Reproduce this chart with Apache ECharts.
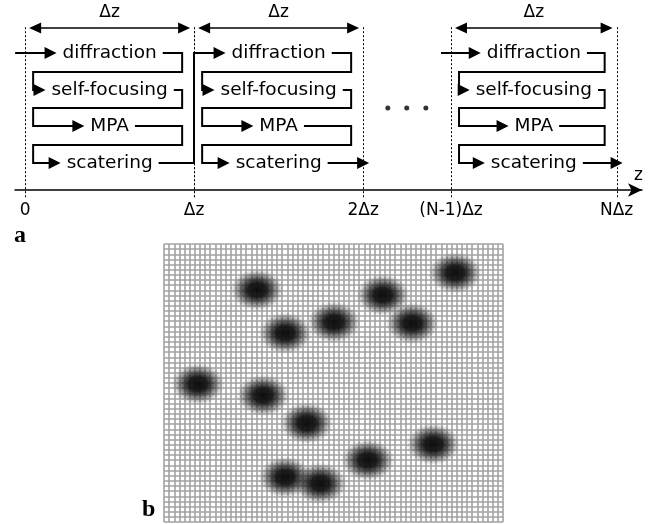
<!DOCTYPE html>
<html>
<head>
<meta charset="utf-8">
<script src="https://cdn.jsdelivr.net/npm/echarts@6/dist/echarts.min.js"></script>
<style>
  html, body { margin: 0; padding: 0; background: #fff; }
  #chart { width: 649px; height: 524px; }
</style>
</head>
<body>
<div id="chart"></div>
<script>
// ---- Panel a: split-step propagation along z (units of Δz; axis broken between 2Δz and (N-1)Δz)
const zTickPositions = [0, 1, 2, 2.52, 3.5];
const zTickLabels = ['0', 'Δz', '2Δz', '(N-1)Δz', 'NΔz'];
const stepBlocks = [[0, 1], [1, 2], [2.52, 3.5]];
const stageNames = ['diffraction', 'self-focusing', 'MPA', 'scatering'];
const spanLabel = 'Δz';
const gapDotsZ = [2.146, 2.258, 2.371];
const gapDotsRow = 1.5;

// ---- Panel b: scatterer positions on the transverse cell grid (column, row)
const scattererCols = [18.1, 23.6, 33.1, 42.6, 48.3, 56.7, 6.6, 19.3, 27.8, 52.4, 39.7, 23.6, 30.4];
const scattererRows = [8.9, 17.3, 15.2, 9.9, 15.4, 5.6, 27.2, 29.4, 34.8, 38.9, 42.0, 45.3, 46.5];
const cellCols = 66;
const cellRows = 54;

const FONT_STAGE = '18.5px "DejaVu Sans"';
const FONT_SPAN = '17px "DejaVu Sans"';
const ARROW_LEN = 12;
const ARROW_HALF = 6;

const measureCtx = document.createElement('canvas').getContext('2d');
function textWidth(s, font) {
  measureCtx.font = font;
  return measureCtx.measureText(s).width;
}

function arrowHead(tipX, tipY, dir, len, half) {
  return {
    type: 'polygon',
    shape: { points: [[tipX, tipY], [tipX - dir * len, tipY - half], [tipX - dir * len, tipY + half]] },
    style: { fill: '#000' }
  };
}

function flowLine(points) {
  return {
    type: 'polyline',
    shape: { points: points },
    style: { stroke: '#000', lineWidth: 2, fill: null, lineJoin: 'miter' }
  };
}

function renderBlock(params, api) {
  const idx = params.dataIndex;
  const z0 = api.value(0), z1 = api.value(1);
  const x0 = api.coord([z0, 0])[0];
  const x1 = api.coord([z1, 0])[0];
  const rowY = r => api.coord([z0, r])[1];
  const xc = (x0 + x1) / 2;
  const left = x0 + 8;
  const right = x1 - 12;
  const children = [];

  // block boundaries
  const yTop = rowY(-0.72), yBot = rowY(3.96);
  [x0, x1].forEach(x => {
    const px = Math.round(x) + 0.5;
    children.push({
      type: 'line',
      shape: { x1: px, y1: yTop, x2: px, y2: yBot },
      style: { stroke: '#000', lineWidth: 1, lineDash: [2, 2] }
    });
  });

  // Δz span arrow
  const ySpan = Math.round(rowY(-0.69));
  children.push({
    type: 'line',
    shape: { x1: x0 + 8, y1: ySpan, x2: x1 - 8, y2: ySpan },
    style: { stroke: '#000', lineWidth: 1.5 }
  });
  children.push(arrowHead(x0 + 4, ySpan, -1, 12, 5.5));
  children.push(arrowHead(x1 - 4, ySpan, 1, 12, 5.5));
  children.push({
    type: 'text',
    style: { text: spanLabel, x: xc, y: rowY(-1.12), align: 'center', verticalAlign: 'middle', font: FONT_SPAN, fill: '#000' }
  });

  // stage labels and the serpentine flow between them
  const rowsY = stageNames.map((_, r) => Math.round(rowY(r)));
  const bounds = stageNames.map(name => {
    const w = textWidth(name, FONT_STAGE);
    return [xc - w / 2, xc + w / 2];
  });
  stageNames.forEach((name, r) => {
    children.push({
      type: 'text',
      style: { text: name, x: xc, y: rowsY[r], align: 'center', verticalAlign: 'middle', font: FONT_STAGE, fill: '#000' }
    });
  });

  const prev = stepBlocks[idx - 1];
  const next = stepBlocks[idx + 1];

  // input arrow (unless fed by the preceding adjacent block)
  if (!prev || prev[1] !== z0) {
    const tip = bounds[0][0] - 6;
    children.push(flowLine([[x0 - 10, rowsY[0]], [tip - ARROW_LEN + 1, rowsY[0]]]));
    children.push(arrowHead(tip, rowsY[0], 1, ARROW_LEN, ARROW_HALF));
  }

  for (let r = 0; r < stageNames.length - 1; r++) {
    const mid = Math.round((rowsY[r] + rowsY[r + 1]) / 2);
    const tip = bounds[r + 1][0] - 6;
    children.push(flowLine([
      [bounds[r][1] + 6, rowsY[r]], [right, rowsY[r]], [right, mid],
      [left, mid], [left, rowsY[r + 1]], [tip - ARROW_LEN + 1, rowsY[r + 1]]
    ]));
    children.push(arrowHead(tip, rowsY[r + 1], 1, ARROW_LEN, ARROW_HALF));
  }

  const last = stageNames.length - 1;
  if (next && next[0] === z1) {
    const nx0 = x1, nx1 = api.coord([next[1], 0])[0];
    const ntip = (nx0 + nx1) / 2 - textWidth(stageNames[0], FONT_STAGE) / 2 - 6;
    const xb = Math.round(x1);
    children.push(flowLine([
      [bounds[last][1] + 6, rowsY[last]], [xb, rowsY[last]], [xb, rowsY[0]], [ntip - ARROW_LEN + 1, rowsY[0]]
    ]));
    children.push(arrowHead(ntip, rowsY[0], 1, ARROW_LEN, ARROW_HALF));
  } else {
    const tip = x1 + 6;
    children.push(flowLine([[bounds[last][1] + 6, rowsY[last]], [tip - ARROW_LEN + 1, rowsY[last]]]));
    children.push(arrowHead(tip, rowsY[last], 1, ARROW_LEN, ARROW_HALF));
  }

  return { type: 'group', children: children };
}

// soft, slightly wide Gaussian-like spot for each scatterer
const spotGradient = {
  type: 'radial', x: 0.5, y: 0.5, r: 0.5,
  colorStops: [
    { offset: 0, color: 'rgba(10,10,10,0.98)' },
    { offset: 0.35, color: 'rgba(16,16,16,0.93)' },
    { offset: 0.55, color: 'rgba(28,28,28,0.7)' },
    { offset: 0.75, color: 'rgba(45,45,45,0.38)' },
    { offset: 0.9, color: 'rgba(70,70,70,0.12)' },
    { offset: 1, color: 'rgba(90,90,90,0)' }
  ]
};

function renderSpot(params, api) {
  const p = api.coord([api.value(0), api.value(1)]);
  return {
    type: 'circle',
    x: p[0], y: p[1],
    scaleX: 1.28, scaleY: 1,
    shape: { cx: 0, cy: 0, r: 21 },
    style: { fill: spotGradient }
  };
}

const chart = echarts.init(document.getElementById('chart'), null, { renderer: 'canvas' });

chart.setOption({
  animation: false,
  backgroundColor: '#fff',
  grid: [
    { left: 15, right: 7, top: 17, height: 173 },
    { left: 164, top: 244, width: 339, height: 278 }
  ],
  xAxis: [
    {
      gridIndex: 0, type: 'value', min: -0.06, max: 3.65,
      name: 'z', nameLocation: 'end', nameGap: 1,
      nameTextStyle: { fontFamily: 'DejaVu Sans', fontSize: 17, color: '#000', align: 'right', verticalAlign: 'bottom', padding: [0, 0, 6, 0] },
      axisLine: { show: true, onZero: false, symbol: ['none', 'arrow'], symbolSize: [10, 14], lineStyle: { color: '#000', width: 1.5 } },
      axisTick: { show: false },
      splitLine: { show: false },
      axisLabel: {
        customValues: zTickPositions,
        formatter: v => zTickLabels[zTickPositions.indexOf(v)],
        fontFamily: 'DejaVu Sans', fontSize: 17, color: '#000', margin: 12
      }
    },
    {
      gridIndex: 1, type: 'value', min: 0, max: cellCols, interval: 1,
      axisLine: { show: false }, axisTick: { show: false }, axisLabel: { show: false },
      splitLine: { show: true, lineStyle: { color: '#a2a2a2', width: 1.6 } }
    }
  ],
  yAxis: [
    {
      gridIndex: 0, type: 'value', min: -1, max: 3.75, inverse: true,
      axisLine: { show: false }, axisTick: { show: false }, axisLabel: { show: false }, splitLine: { show: false }
    },
    {
      gridIndex: 1, type: 'value', min: 0, max: cellRows, interval: 1, inverse: true,
      axisLine: { show: false }, axisTick: { show: false }, axisLabel: { show: false },
      splitLine: { show: true, lineStyle: { color: '#a2a2a2', width: 1.6 } }
    }
  ],
  series: [
    {
      type: 'custom',
      xAxisIndex: 0, yAxisIndex: 0,
      renderItem: renderBlock,
      data: stepBlocks,
      clip: false,
      silent: true
    },
    {
      type: 'scatter',
      xAxisIndex: 0, yAxisIndex: 0,
      data: gapDotsZ.map(z => [z, gapDotsRow]),
      symbolSize: 5,
      itemStyle: { color: '#000' },
      silent: true
    },
    {
      type: 'custom',
      xAxisIndex: 1, yAxisIndex: 1,
      renderItem: renderSpot,
      data: scattererCols.map((c, i) => [c, scattererRows[i]]),
      clip: true,
      silent: true
    }
  ],
  graphic: [
    { type: 'text', left: 14, top: 224, style: { text: 'a', font: 'bold 24px "Liberation Serif"', fill: '#000' } },
    { type: 'text', left: 142, top: 498, style: { text: 'b', font: 'bold 24px "Liberation Serif"', fill: '#000' } }
  ]
});
</script>
</body>
</html>
